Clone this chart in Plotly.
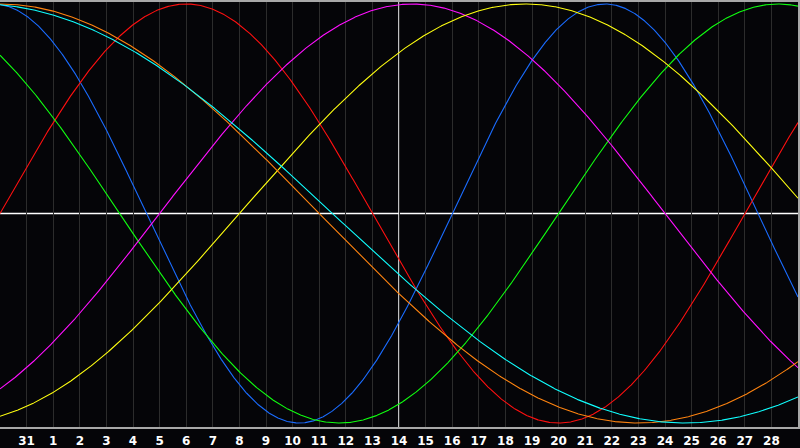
import numpy as np
import plotly.graph_objects as go

# Biorhythm cycles: name, length in days, line colour
CYCLE_NAMES = ["Physical", "Emotional", "Intellectual", "Intuitive",
               "Aesthetic", "Awareness", "Spiritual"]
CYCLE_DAYS = [23, 28, 33, 38, 43, 48, 53]
CYCLE_COLORS = ["#1a6cff", "#ff1010", "#10ff10", "#ff10ff",
                "#ffff10", "#ff8410", "#10ffff"]

# Days alive at the left edge of the chart (day 30 of previous month)
DAYS_AT_START = 27468

# Day-of-month labels for the vertical grid lines
DAY_LABELS = ["31"] + [str(d) for d in range(1, 29)]
TODAY_LABEL = "14"
SPAN_DAYS = 30


def build_figure():
    fig = go.Figure()
    x = np.linspace(0, SPAN_DAYS, 1201)

    for name, period, color in zip(CYCLE_NAMES, CYCLE_DAYS, CYCLE_COLORS):
        y = np.sin(2 * np.pi * (DAYS_AT_START + x) / period)
        fig.add_trace(go.Scatter(
            x=x, y=y, name=name, mode="lines",
            line=dict(color=color, width=1.1),
            hoverinfo="skip",
        ))

    tick_pos = list(range(1, len(DAY_LABELS) + 1))
    today_pos = tick_pos[DAY_LABELS.index(TODAY_LABEL)]

    # zero line and today marker
    fig.add_hline(y=0, line=dict(color="#ffffff", width=1.5), layer="below")
    fig.add_vline(x=today_pos, line=dict(color="#ffffff", width=1.5), layer="below")

    fig.update_layout(
        width=800,
        height=448,
        margin=dict(l=0, r=0, t=0, b=20),
        paper_bgcolor="#050508",
        plot_bgcolor="#050508",
        showlegend=False,
        font=dict(family="DejaVu Sans", color="white", size=12),
        xaxis=dict(
            range=[0, SPAN_DAYS],
            tickvals=tick_pos,
            ticktext=DAY_LABELS,
            tickfont=dict(family="DejaVu Sans", size=12, color="white", weight="bold"),
            showgrid=True, gridcolor="#2c2c2c", gridwidth=1,
            zeroline=False,
            showline=True, linecolor="#a8a8a8", linewidth=1.5, mirror=True,
            ticks="", ticklabelstandoff=2,
        ),
        yaxis=dict(
            range=[-1.019, 1.0095],
            showgrid=False, zeroline=False,
            showticklabels=False, ticks="",
            showline=True, linecolor="#a8a8a8", linewidth=1.5, mirror=True,
        ),
    )
    return fig


fig = build_figure()
# drop the default page margin so the chart fills the window
fig.write_html("out.html", config={"displayModeBar": False},
               post_script="document.body.style.margin='0';")
